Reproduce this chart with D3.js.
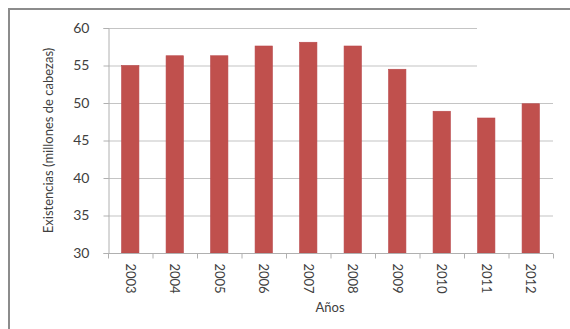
<!DOCTYPE html>
<html>
<head>
<meta charset="utf-8">
<title>Existencias</title>
<script src="https://d3js.org/d3.v7.min.js"></script>
<style>
  body { margin: 0; background: #fff; }
  svg text { font-family: Lato, "Open Sans", sans-serif; fill: #404040; }
</style>
</head>
<body>
<div id="chart"></div>
<script>
// data
var years = ["2003", "2004", "2005", "2006", "2007", "2008", "2009", "2010", "2011", "2012"];
var stock = [55.0, 56.3, 56.3, 57.6, 58.1, 57.6, 54.5, 48.9, 48.0, 49.9];
var yTicks = [30, 35, 40, 45, 50, 55, 60];

var width = 570, height = 329;
var margin = { top: 28, right: 17, bottom: 76, left: 108 };

var svg = d3.select('#chart')
  .append('svg')
  .attr('width', width)
  .attr('height', height);

// outer frame (cut off at right and bottom like the scan)
svg.append('rect')
  .attr('x', 9).attr('y', 9)
  .attr('width', 580).attr('height', 340)
  .attr('fill', 'none')
  .attr('stroke', '#8c8c8c')
  .attr('stroke-width', 2);

var x = d3.scaleBand()
  .domain(years)
  .range([margin.left, width - margin.right])
  .paddingInner(0.61)
  .paddingOuter(0.305);

var y = d3.scaleLinear()
  .domain([30, 60])
  .range([height - margin.bottom, margin.top]);

// gridlines
svg.append('g')
  .selectAll('line')
  .data(yTicks.slice(1))
  .enter()
  .append('line')
  .attr('x1', margin.left)
  .attr('x2', function(d) { return d >= 55 ? 477 : width - margin.right; })
  .attr('y1', function(d) { return y(d) + 0.5; })
  .attr('y2', function(d) { return y(d) + 0.5; })
  .attr('stroke', '#c4c4c4')
  .attr('stroke-width', 1.2);

// bars
svg.append('g')
  .selectAll('rect')
  .data(stock)
  .enter()
  .append('rect')
  .attr('x', function(d, i) { return x(years[i]); })
  .attr('width', x.bandwidth())
  .attr('y', function(d) { return y(d); })
  .attr('height', function(d) { return y(30) - y(d); })
  .attr('fill', '#c0504d')
  .attr('stroke', '#b8474a')
  .attr('stroke-width', 0.6);

// y axis
var yAxis = svg.append('g')
  .attr('transform', 'translate(' + (margin.left + 0.5) + ',0)')
  .call(d3.axisLeft(y).tickValues(yTicks).tickSize(5).tickPadding(14));
yAxis.select('.domain').attr('stroke', '#b0b0b0');
yAxis.selectAll('.tick line').attr('stroke', '#b0b0b0');
yAxis.selectAll('.tick text')
  .style('font-size', '14px')
  .attr('fill', '#404040');

// x axis: ticks sit between the categories
var xBase = y(30) + 0.5;
var xAxis = svg.append('g');
xAxis.append('line')
  .attr('x1', margin.left).attr('x2', width - margin.right)
  .attr('y1', xBase).attr('y2', xBase)
  .attr('stroke', '#b0b0b0');
var step = x.step();
xAxis.selectAll('line.tk')
  .data(d3.range(years.length + 1))
  .enter()
  .append('line')
  .attr('class', 'tk')
  .attr('x1', function(i) { return margin.left + i * step + 0.5; })
  .attr('x2', function(i) { return margin.left + i * step + 0.5; })
  .attr('y1', xBase).attr('y2', xBase + 5)
  .attr('stroke', '#b0b0b0');

xAxis.selectAll('text')
  .data(years)
  .enter()
  .append('text')
  .attr('transform', function(d) {
    return 'translate(' + (x(d) + x.bandwidth() / 2) + ',' + (xBase + 10) + ') rotate(90)';
  })
  .attr('dy', '0.35em')
  .style('font-size', '13px')
  .text(function(d) { return d; });

// axis titles
svg.append('text')
  .attr('x', 330).attr('y', 312)
  .attr('text-anchor', 'middle')
  .style('font-size', '13px')
  .text('Años');

svg.append('text')
  .attr('transform', 'translate(53,' + ((y(30) + y(60)) / 2) + ') rotate(-90)')
  .attr('text-anchor', 'middle')
  .style('font-size', '13px')
  .text('Existencias (millones de cabezas)');
</script>
</body>
</html>
